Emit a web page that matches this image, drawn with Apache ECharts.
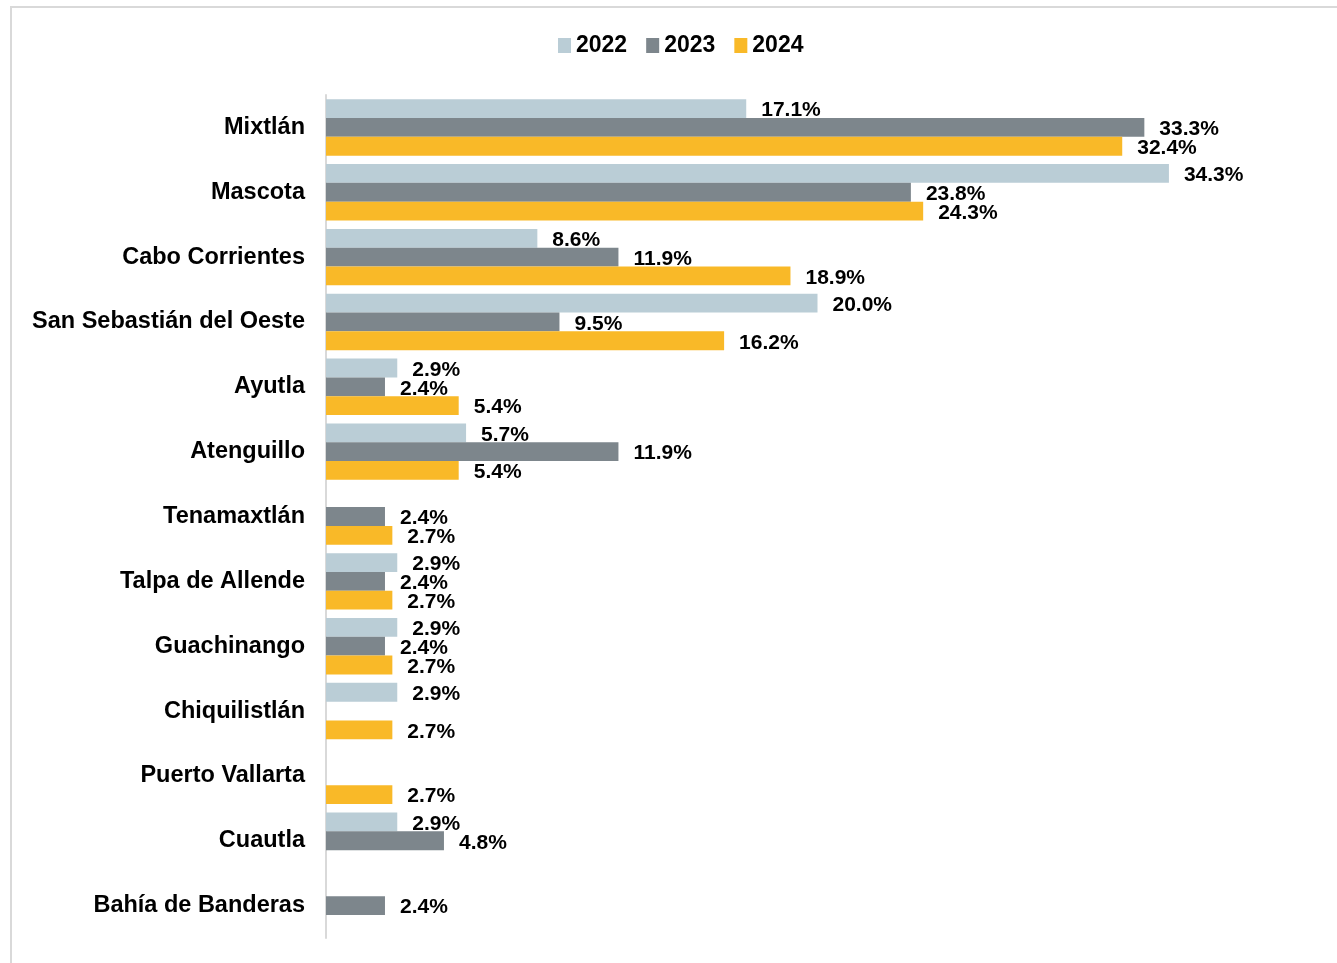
<!DOCTYPE html>
<html>
<head>
<meta charset="utf-8">
<script src="https://cdn.jsdelivr.net/npm/echarts@6/dist/echarts.min.js"></script>
<style>
  html, body { margin: 0; padding: 0; background: #fff; }
  #frame { position: absolute; left: 10px; top: 6px; width: 1327px; height: 957px;
           border-left: 2px solid #d9d9d9; border-top: 2px solid #d9d9d9; }
  #box { position: absolute; left: 0; top: 0; width: 1337px; height: 963px; }
</style>
</head>
<body>
<div id="frame"></div>
<div id="box"></div>
<script>
// municipios (de arriba hacia abajo)
const categories = [
  'Mixtlán', 'Mascota', 'Cabo Corrientes', 'San Sebastián del Oeste', 'Ayutla',
  'Atenguillo', 'Tenamaxtlán', 'Talpa de Allende', 'Guachinango', 'Chiquilistlán',
  'Puerto Vallarta', 'Cuautla', 'Bahía de Banderas'
];
const years = ['2022', '2023', '2024'];
// porcentajes por año
const data2022 = [17.1, 34.3, 8.6, 20.0, 2.9, 5.7, null, 2.9, 2.9, 2.9, null, 2.9, null];
const data2023 = [33.3, 23.8, 11.9, 9.5, 2.4, 11.9, 2.4, 2.4, 2.4, null, null, 4.8, 2.4];
const data2024 = [32.4, 24.3, 18.9, 16.2, 5.4, 5.4, 2.7, 2.7, 2.7, 2.7, 2.7, null, null];
const colors = ['#bacdd6', '#7d868c', '#f9b928'];

const font = 'Liberation Sans, Arial, sans-serif';

function makeSeries(name, values, color) {
  return {
    name: name,
    type: 'bar',
    data: values,
    barGap: '0%',
    barCategoryGap: '13%',
    itemStyle: { color: color },
    label: {
      show: true,
      position: 'right',
      distance: 15,
      offset: [0, 2],
      color: '#000',
      fontWeight: 'bold',
      fontSize: 21,
      fontFamily: font,
      formatter: p => p.value == null ? '' : p.value.toFixed(1) + '%'
    }
  };
}

const myChart = echarts.init(document.getElementById('box'));
myChart.setOption({
  animation: false,
  legend: {
    top: 29,
    left: 553,
    itemWidth: 13,
    itemHeight: 15,
    itemGap: 19,
    icon: 'rect',
    textStyle: { color: '#000', fontWeight: 'bold', fontSize: 23, fontFamily: font }
  },
  grid: { left: 326, right: 28, top: 95, bottom: 25, containLabel: false },
  xAxis: {
    type: 'value',
    min: 0,
    max: 40,
    show: false
  },
  yAxis: {
    type: 'category',
    inverse: true,
    data: categories,
    axisLine: { show: true, lineStyle: { color: '#d9d9d9', width: 2 } },
    axisTick: { show: false },
    axisLabel: {
      color: '#000',
      fontWeight: 'bold',
      fontSize: 23.5,
      fontFamily: font,
      margin: 21,
      padding: [4, 0, 0, 0]
    }
  },
  series: [
    makeSeries(years[0], data2022, colors[0]),
    makeSeries(years[1], data2023, colors[1]),
    makeSeries(years[2], data2024, colors[2])
  ]
});
</script>
</body>
</html>
